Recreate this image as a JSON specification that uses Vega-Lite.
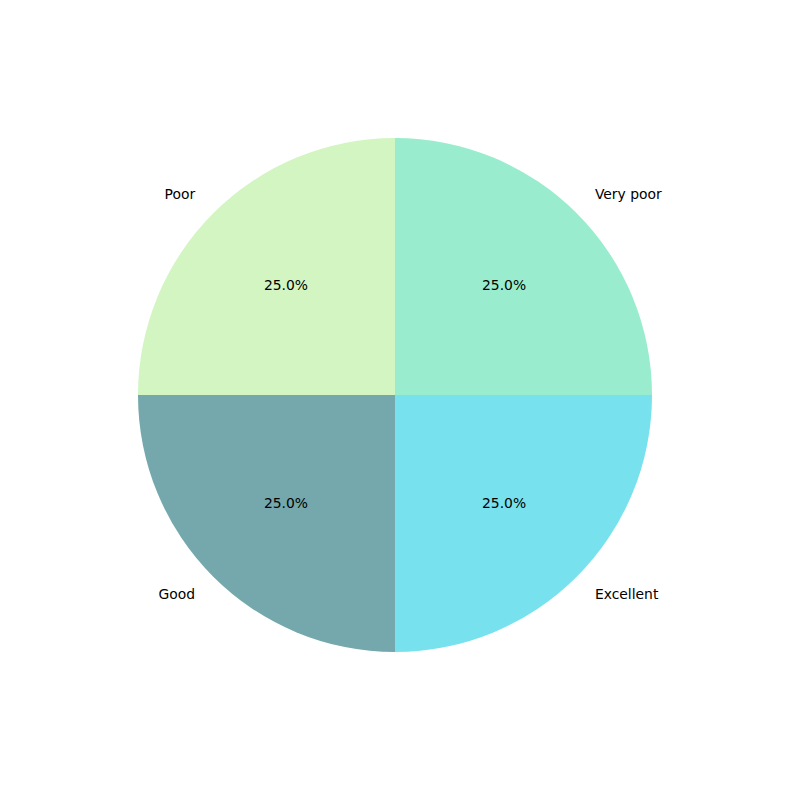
{
  "$schema": "https://vega.github.io/schema/vega-lite/v6.json",
  "width": 790,
  "height": 790,
  "autosize": {"type": "fit", "contains": "padding"},
  "padding": 0,
  "background": "white",
  "config": {"view": {"stroke": null}},
  "data": {"values": [
    {"category": "Very poor", "share": 0.25},
    {"category": "Poor", "share": 0.25},
    {"category": "Good", "share": 0.25},
    {"category": "Excellent", "share": 0.25}
  ]},
  "encoding": {
    "theta": {"field": "share", "type": "quantitative", "stack": true, "scale": {"range": [1.5707963, -4.712389]}},
    "order": {"field": "category", "sort": "descending"}
  },
  "layer": [
    {
      "mark": {"type": "arc", "outerRadius": 257, "stroke": null},
      "encoding": {
        "color": {"field": "category", "type": "nominal", "legend": null,
          "scale": {"domain": ["Very poor", "Poor", "Good", "Excellent"], "range": ["#99EDCE", "#D2F5C2", "#74A8AC", "#78E1EE"]}}
      }
    },
    {
      "mark": {"type": "text", "radius": 154.2, "font": "DejaVu Sans", "fontSize": 13.9, "color": "black"},
      "encoding": {"text": {"field": "share", "type": "quantitative", "format": ".1%"}}
    },
    {
      "mark": {"type": "text", "radius": 282.7, "font": "DejaVu Sans", "fontSize": 13.9, "color": "black", "align": "left", "baseline": "middle"},
      "encoding": {"text": {"condition": {"test": "datum.category === 'Very poor' || datum.category === 'Excellent'", "field": "category"}, "value": ""}}
    },
    {
      "mark": {"type": "text", "radius": 282.7, "font": "DejaVu Sans", "fontSize": 13.9, "color": "black", "align": "right", "baseline": "middle"},
      "encoding": {"text": {"condition": {"test": "datum.category === 'Poor' || datum.category === 'Good'", "field": "category"}, "value": ""}}
    }
  ]
}
